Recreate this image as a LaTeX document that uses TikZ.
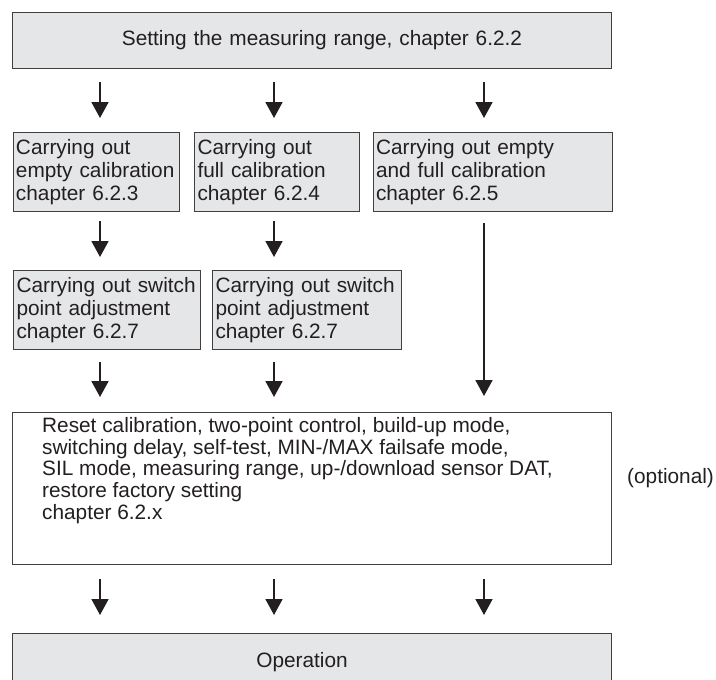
\documentclass[tikz,border=0pt]{standalone}
\usepackage{fontspec}
\setmainfont{Liberation Sans}
\usetikzlibrary{arrows.meta}
\definecolor{boxgray}{RGB}{229,230,232}
\definecolor{ink}{RGB}{35,31,32}

\begin{document}
\begin{tikzpicture}[x=1pt,y=-1pt,
  box/.style={draw=black!75,line width=1pt,fill=boxgray,anchor=north west,inner xsep=3pt,inner ysep=0pt,align=left,text=ink,font=\fontsize{20.8}{23}\selectfont},
  txt/.style={inner sep=0pt,align=left,text=ink,font=\fontsize{20.8}{21.8}\selectfont},
  arr/.style={line width=1.8pt,draw=ink,-{Triangle[length=16pt,width=17pt]}}]
  \useasboundingbox (0,0) rectangle (716,680);
  % column positions of the arrows
  \coordinate (c1) at (100,0);
  \coordinate (c2) at (274,0);
  \coordinate (c3) at (484,0);
  \node[box,minimum width=599pt,minimum height=56pt,align=center,text width=593pt] (set) at (12,12) {\hspace*{20pt}Setting the measuring range, chapter 6.2.2};
  \node[box,text width=160.5pt,minimum height=79pt] (empty) at (12.5,132) {Carrying out\\ empty calibration\\ chapter 6.2.3};
  \node[box,text width=159pt,minimum height=79pt] (full) at (194,132) {Carrying out\\ full calibration\\ chapter 6.2.4};
  \node[box,text width=233pt,minimum height=79pt] (both) at (372.5,132) {Carrying out empty\\ and full calibration\\ chapter 6.2.5};
  \node[box,text width=181pt,minimum height=79pt] (adjA) at (13,270) {Carrying out switch\\ point adjustment\\ chapter 6.2.7};
  \node[box,text width=183pt,minimum height=79pt] (adjB) at (212,270) {Carrying out switch\\ point adjustment\\ chapter 6.2.7};
  \node[box,fill=white,minimum width=599pt,minimum height=152pt] (opt) at (12,412) {};
  \node[txt,anchor=north west] (opttext) at (42,417) {Reset calibration, two-point control, build-up mode,\\ switching delay, self-test, MIN-/MAX failsafe mode,\\ SIL mode, measuring range, up-/download sensor DAT,\\ restore factory setting\\ chapter 6.2.x};
  \node[txt,anchor=west] (note) at (627,478) {(optional)};
  \node[box,minimum width=599pt,minimum height=58pt,align=center,text width=593pt] (oper) at (12,633) {Operation\hspace*{20pt}};
  % arrows
  \draw[arr,shorten <=13pt,shorten >=14pt] (set.south -| c1) -- (empty.north -| c1);
  \draw[arr,shorten <=13pt,shorten >=14pt] (set.south -| c2) -- (full.north -| c2);
  \draw[arr,shorten <=13pt,shorten >=14pt] (set.south -| c3) -- (both.north -| c3);
  \draw[arr,shorten <=9pt,shorten >=13pt] (empty.south -| c1) -- (adjA.north -| c1);
  \draw[arr,shorten <=9pt,shorten >=13pt] (full.south -| c2) -- (adjB.north -| c2);
  \draw[arr,shorten <=11pt,shorten >=16pt] (both.south -| c3) -- (opt.north -| c3);
  \draw[arr,shorten <=12pt,shorten >=15pt] (adjA.south -| c1) -- (opt.north -| c1);
  \draw[arr,shorten <=12pt,shorten >=15pt] (adjB.south -| c2) -- (opt.north -| c2);
  \draw[arr,shorten <=14pt,shorten >=18pt] (opt.south -| c1) -- (oper.north -| c1);
  \draw[arr,shorten <=14pt,shorten >=18pt] (opt.south -| c2) -- (oper.north -| c2);
  \draw[arr,shorten <=14pt,shorten >=18pt] (opt.south -| c3) -- (oper.north -| c3);
\end{tikzpicture}
\end{document}
